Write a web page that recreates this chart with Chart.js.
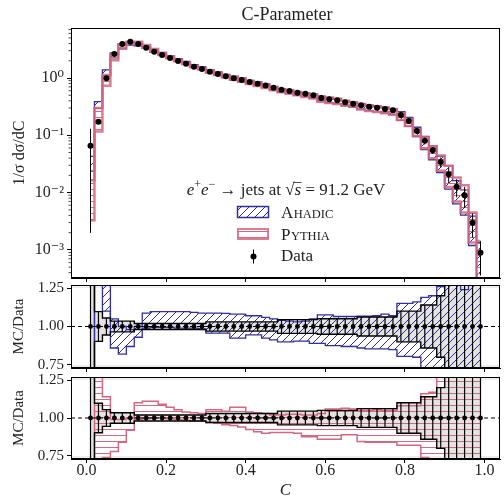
<!DOCTYPE html>
<html lang="en">
<head>
<meta charset="UTF-8">
<script src="https://cdn.jsdelivr.net/npm/chart.js@4.4.0/dist/chart.umd.min.js"></script>
<title>C-Parameter</title>
<style>
  body { margin: 0; background: #fff; }
  #wrap { position: relative; width: 504px; height: 498px; }
  canvas { position: absolute; left: 0; }
</style>
</head>
<body>
<div id="wrap">
  <canvas id="main" width="504" height="290" style="top:0px"></canvas>
  <canvas id="ratioA" width="504" height="94" style="top:280px"></canvas>
  <canvas id="ratioP" width="504" height="129" style="top:372px"></canvas>
</div>
<script>
// bin centres in C
const centers = [0.01, 0.03, 0.05, 0.07, 0.09, 0.11, 0.13, 0.15, 0.17, 0.19,
                 0.21, 0.23, 0.25, 0.27, 0.29, 0.31, 0.33, 0.35, 0.37, 0.39,
                 0.41, 0.43, 0.45, 0.47, 0.49, 0.51, 0.53, 0.55, 0.57, 0.59,
                 0.61, 0.63, 0.65, 0.67, 0.69, 0.71, 0.73, 0.75, 0.77, 0.79,
                 0.81, 0.83, 0.85, 0.87, 0.89, 0.91, 0.93, 0.95, 0.97, 0.99];

// data: 1/sigma dsigma/dC
const sigma = [0.066, 0.173, 0.99, 2.62, 3.92, 4.30, 3.92, 3.38, 2.88, 2.52,
               2.23, 1.98, 1.78, 1.57, 1.44, 1.29, 1.17, 1.07, 0.99, 0.923,
               0.851, 0.796, 0.743, 0.677, 0.625, 0.593, 0.554, 0.532, 0.499, 0.448,
               0.425, 0.408, 0.377, 0.356, 0.334, 0.316, 0.303, 0.288, 0.273, 0.226,
               0.178, 0.119, 0.080, 0.055, 0.0342, 0.0209, 0.0127, 0.00897, 0.00298, 0.00089];

// relative data uncertainty
const relErr = [0.97, 0.097, 0.055, 0.035, 0.035, 0.035, 0.02, 0.02, 0.02, 0.02,
                0.02, 0.02, 0.02, 0.02, 0.02, 0.03, 0.03, 0.03, 0.03, 0.03,
                0.03, 0.03, 0.03, 0.03, 0.045, 0.045, 0.045, 0.045, 0.045, 0.05,
                0.05, 0.05, 0.05, 0.05, 0.062, 0.062, 0.062, 0.062, 0.062, 0.10,
                0.10, 0.10, 0.14, 0.14, 0.20, 0.30, 0.35, 0.40, 0.45, 0.60];

// MC / Data bands
const ahadicLo = [0.36, 1.70, 1.10, 0.86, 0.82, 0.87, 0.93, 0.99, 0.995, 0.995,
                  0.995, 0.99, 0.99, 0.99, 0.985, 0.957, 0.957, 0.957, 0.924, 0.924,
                  0.946, 0.946, 0.924, 0.913, 0.90, 0.90, 0.905, 0.905, 0.89, 0.89,
                  0.875, 0.875, 0.87, 0.87, 0.86, 0.855, 0.855, 0.855, 0.85, 0.805,
                  0.805, 0.80, 0.70, 0.68, 0.65, 0.55, 0.50, 0.45, 0.40, 0.10];
const ahadicHi = [0.65, 2.23, 1.40, 1.05, 1.00, 0.98, 1.00, 1.087, 1.097, 1.097,
                  1.097, 1.097, 1.097, 1.092, 1.087, 1.087, 1.087, 1.085, 1.08, 1.08,
                  1.07, 1.07, 1.06, 1.05, 1.04, 1.035, 1.03, 1.035, 1.05, 1.076,
                  1.076, 1.065, 1.065, 1.065, 1.068, 1.068, 1.07, 1.08, 1.07, 1.15,
                  1.15, 1.16, 1.19, 1.20, 1.26, 1.40, 1.27, 1.24, 1.30, 1.50];
const pythiaLo = [0.05, 0.67, 0.74, 0.78, 0.84, 0.92, 0.99, 0.995, 1.0, 1.0,
                  0.995, 0.99, 0.985, 0.98, 0.98, 0.97, 0.965, 0.955, 0.95, 0.94,
                  0.925, 0.91, 0.90, 0.905, 0.905, 0.905, 0.90, 0.877, 0.877, 0.86,
                  0.86, 0.86, 0.89, 0.89, 0.845, 0.84, 0.84, 0.84, 0.84, 0.82,
                  0.82, 0.82, 0.74, 0.72, 0.70, 0.60, 0.55, 0.50, 0.45, 0.20];
const pythiaHi = [0.25, 1.73, 1.14, 0.99, 0.99, 1.0, 1.10, 1.11, 1.11, 1.09,
                  1.07, 1.055, 1.04, 1.035, 1.03, 1.055, 1.055, 1.045, 1.07, 1.07,
                  1.04, 1.035, 1.03, 1.02, 1.02, 1.025, 1.025, 1.02, 1.02, 1.03,
                  1.06, 1.06, 1.065, 1.06, 1.05, 1.05, 1.055, 1.05, 1.05, 1.08,
                  1.08, 1.08, 1.16, 1.17, 1.30, 1.40, 1.45, 1.50, 1.50, 1.60];

const xTicks = [0.0, 0.2, 0.4, 0.6, 0.8, 1.0];
const logTicks = [1e-3, 1e-2, 1e-1, 1];
const logLabels = ['10\u207B\u00B3', '10\u207B\u00B2', '10\u207B\u00B9', '10\u2070'];
const ratioTicks = [0.75, 1.0, 1.25];

const X_MIN = -0.039, X_MAX = 1.039;
const Y_MIN = 3.23e-4, Y_MAX = 7.46;
const R_MIN = 0.73, R_MAX = 1.27;

const SERIF = '"Liberation Serif", "DejaVu Serif", serif';
const BLUE = '#30309c';
const PINK = '#d4687f';
Chart.defaults.font.family = SERIF;
Chart.defaults.color = '#222';

function pts(ys) { return centers.map((c, i) => ({ x: c, y: ys[i] })); }
function mul(a, b) { return a.map((v, i) => v * b[i]); }
const unity = centers.map(() => 1);
const bandHi = relErr.map(e => 1 + e);
const bandLo = relErr.map(e => 1 - e);

function makeHatch(color, kind) {
  const c = document.createElement('canvas');
  const n = kind === 'diag' ? 8 : 6;
  c.width = n; c.height = n;
  const g = c.getContext('2d');
  g.strokeStyle = color; g.lineWidth = 1;
  g.beginPath();
  if (kind === 'diag') {
    g.moveTo(0, n); g.lineTo(n, 0);
    g.moveTo(-1, 1); g.lineTo(1, -1);
    g.moveTo(n - 1, n + 1); g.lineTo(n + 1, n - 1);
  } else {
    g.moveTo(0, n / 2 + 0.5); g.lineTo(n, n / 2 + 0.5);
  }
  g.stroke();
  return g.createPattern(c, 'repeat');
}
const blueHatch = makeHatch(BLUE, 'diag');
const pinkHatch = makeHatch(PINK, 'horiz');

function xScale(labels, height) {
  return {
    type: 'linear', min: X_MIN, max: X_MAX, bounds: 'data',
    afterBuildTicks: s => { s.ticks = xTicks.map(v => ({ value: v })); },
    afterFit: s => { s.height = height; s.paddingLeft = 0; s.paddingRight = 0; },
    ticks: { display: labels, autoSkip: false, maxRotation: 0, padding: -2,
             font: { size: 16 }, callback: v => v.toFixed(1) },
    grid: { drawOnChartArea: false, drawTicks: true, tickLength: 4, color: '#000' },
    border: { color: '#000', width: 1 },
    title: { display: labels, text: 'C', padding: 0,
             font: { size: 17, style: 'italic' } }
  };
}

const framePlugin = {
  id: 'frame',
  afterDraw(chart) {
    const { ctx, chartArea: a } = chart;
    ctx.save();
    ctx.strokeStyle = '#000'; ctx.lineWidth = 1;
    ctx.strokeRect(a.left + 0.5, a.top + 0.5, a.right - a.left - 1, a.bottom - a.top - 1);
    ctx.restore();
  }
};

function errorBars(ys, lw) {
  return {
    id: 'errbars',
    afterDatasetsDraw(chart) {
      const { ctx, chartArea: a, scales: { x, y } } = chart;
      ctx.save();
      ctx.beginPath(); ctx.rect(a.left, a.top, a.right - a.left, a.bottom - a.top); ctx.clip();
      ctx.strokeStyle = '#000'; ctx.lineWidth = lw;
      ctx.beginPath();
      centers.forEach((c, i) => {
        const px = x.getPixelForValue(c);
        const lo = Math.max(ys[i] * (1 - relErr[i]), 1e-7);
        ctx.moveTo(px, y.getPixelForValue(ys[i] * (1 + relErr[i])));
        ctx.lineTo(px, y.getPixelForValue(lo));
      });
      ctx.stroke();
      ctx.restore();
    }
  };
}

function drawRich(ctx, parts, cx, base) {
  let w = 0;
  parts.forEach(p => { ctx.font = p.f; w += ctx.measureText(p.t).width; });
  let x = cx - w / 2;
  parts.forEach(p => {
    ctx.font = p.f;
    const pw = ctx.measureText(p.t).width;
    ctx.fillText(p.t, x, base + (p.dy || 0));
    if (p.over) {
      ctx.beginPath(); ctx.lineWidth = 0.8;
      ctx.moveTo(x - 1, base - 12.5); ctx.lineTo(x + pw + 0.5, base - 12.5); ctx.stroke();
    }
    x += pw;
  });
}

const topDeco = {
  id: 'topDeco',
  afterDraw(chart) {
    const { ctx, scales: { y }, chartArea: a } = chart;
    ctx.save();
    ctx.fillStyle = '#222'; ctx.strokeStyle = '#222';
    ctx.textAlign = 'left'; ctx.textBaseline = 'alphabetic';
    // title
    drawRich(ctx, [{ t: 'C-Parameter', f: '18px ' + SERIF }], 287, 20);
    // minor log ticks
    ctx.strokeStyle = '#000'; ctx.lineWidth = 0.7;
    ctx.beginPath();
    for (let k = -4; k <= 0; k++) {
      for (let m = 2; m <= 9; m++) {
        const v = m * Math.pow(10, k);
        if (v < Y_MIN || v > Y_MAX) continue;
        const py = y.getPixelForValue(v);
        ctx.moveTo(a.left - 2.5, py); ctx.lineTo(a.left, py);
      }
    }
    ctx.stroke();
    // legend
    ctx.fillStyle = '#222'; ctx.strokeStyle = '#222';
    const it = 'italic 17px ' + SERIF, rm = '17px ' + SERIF, sm = '12px ' + SERIF;
    drawRich(ctx, [
      { t: 'e', f: it }, { t: '+', f: sm, dy: -7 }, { t: 'e', f: it }, { t: '\u2212', f: sm, dy: -7 },
      { t: ' \u2192 jets at ', f: rm }, { t: '\u221A', f: rm }, { t: 's', f: it, over: true },
      { t: ' = 91.2 GeV', f: rm }
    ], 286, 195);

    ctx.fillStyle = blueHatch; ctx.fillRect(237, 206, 32, 12);
    ctx.strokeStyle = BLUE; ctx.lineWidth = 1.5; ctx.strokeRect(237.5, 206.5, 31, 11);
    ctx.fillStyle = pinkHatch; ctx.fillRect(237, 228, 32, 12);
    ctx.strokeStyle = 'rgba(212,104,127,0.85)'; ctx.lineWidth = 2; ctx.strokeRect(238, 229, 30, 10);

    ctx.fillStyle = '#000'; ctx.strokeStyle = '#000'; ctx.lineWidth = 1;
    ctx.beginPath(); ctx.moveTo(253.5, 249.5); ctx.lineTo(253.5, 263.5); ctx.stroke();
    ctx.beginPath(); ctx.arc(253.5, 256.5, 3, 0, 2 * Math.PI); ctx.fill();

    ctx.fillStyle = '#222';
    const cap = '17px ' + SERIF, sc = '12.5px ' + SERIF;
    ctx.font = cap; ctx.fillText('A', 281, 218);
    let w = ctx.measureText('A').width;
    ctx.font = sc; ctx.fillText('HADIC', 281 + w + 0.5, 218);
    ctx.font = cap; ctx.fillText('P', 281, 240);
    w = ctx.measureText('P').width;
    ctx.font = sc; ctx.fillText('YTHIA', 281 + w + 0.5, 240);
    ctx.font = cap; ctx.fillText('Data', 281, 261);
    ctx.restore();
  }
};

new Chart(document.getElementById('main'), {
  type: 'line',
  data: {
    datasets: [
      { label: 'Data', data: pts(sigma), showLine: false, pointRadius: 3,
        pointBackgroundColor: '#000', pointBorderWidth: 0, borderColor: '#000' },
      { label: 'Pythia up', data: pts(mul(sigma, pythiaHi)), stepped: 'middle',
        borderColor: 'rgba(212,104,127,0.85)', borderWidth: 2.5, pointRadius: 0, fill: false },
      { label: 'Pythia down', data: pts(mul(sigma, pythiaLo)), stepped: 'middle',
        borderColor: 'rgba(212,104,127,0.85)', borderWidth: 2.5, pointRadius: 0,
        fill: '-1', backgroundColor: pinkHatch },
      { label: 'Ahadic up', data: pts(mul(sigma, ahadicHi)), stepped: 'middle',
        borderColor: BLUE, borderWidth: 1.3, pointRadius: 0, fill: false },
      { label: 'Ahadic down', data: pts(mul(sigma, ahadicLo)), stepped: 'middle',
        borderColor: BLUE, borderWidth: 1.3, pointRadius: 0,
        fill: '-1', backgroundColor: blueHatch }
    ]
  },
  options: {
    responsive: false, animation: false, devicePixelRatio: 1,
    layout: { padding: { top: 28, right: 1, left: 0, bottom: 0 } },
    plugins: { legend: { display: false }, tooltip: { enabled: false } },
    scales: {
      x: xScale(false, 12),
      y: {
        type: 'logarithmic', min: Y_MIN, max: Y_MAX, bounds: 'data',
        afterBuildTicks: s => { s.ticks = logTicks.map(v => ({ value: v })); },
        afterFit: s => { s.width = 71; s.paddingTop = 0; s.paddingBottom = 0; },
        ticks: { autoSkip: false, padding: 3, font: { size: 16 },
                 callback: v => logLabels[logTicks.findIndex(t => Math.abs(t - v) / t < 1e-6)] || '' },
        grid: { drawOnChartArea: false, drawTicks: true, tickLength: 4, color: '#000' },
        border: { color: '#000', width: 1 },
        title: { display: true, text: '1/\u03C3 d\u03C3/dC', padding: { top: 10, bottom: 0 },
                 font: { size: 16 } }
      }
    }
  },
  plugins: [framePlugin, errorBars(sigma, 1), topDeco]
});

const shade = {
  id: 'shade',
  beforeDatasetsDraw(chart) {
    const { ctx, chartArea: a, scales: { y } } = chart;
    const y1 = y.getPixelForValue(1.25), y2 = y.getPixelForValue(0.75);
    ctx.save();
    ctx.fillStyle = '#ededed';
    ctx.fillRect(a.left, a.top, a.right - a.left, y1 - a.top);
    ctx.fillRect(a.left, y2, a.right - a.left, a.bottom - y2);
    ctx.restore();
  }
};

function ratioChart(id, lo, hi, color, hatch, lw, xLabels, xHeight) {
  return new Chart(document.getElementById(id), {
    type: 'line',
    data: {
      datasets: [
        { data: pts(unity), showLine: false, pointRadius: 2.4,
          pointBackgroundColor: '#000', pointBorderWidth: 0, borderColor: '#000' },
        { data: [{ x: X_MIN, y: 1 }, { x: X_MAX, y: 1 }], borderColor: '#000',
          borderWidth: 1, borderDash: [4, 3], pointRadius: 0, fill: false },
        { data: pts(bandHi), stepped: 'middle', borderColor: '#000', borderWidth: 1.4,
          pointRadius: 0, fill: false },
        { data: pts(bandLo), stepped: 'middle', borderColor: '#000', borderWidth: 1.4,
          pointRadius: 0, fill: false },
        { data: pts(hi), stepped: 'middle', borderColor: color, borderWidth: lw,
          pointRadius: 0, fill: false },
        { data: pts(lo), stepped: 'middle', borderColor: color, borderWidth: lw,
          pointRadius: 0, fill: '-1', backgroundColor: hatch },
        { data: pts(bandHi), stepped: 'middle', borderColor: 'rgba(0,0,0,0)',
          pointRadius: 0, fill: false },
        { data: pts(bandLo), stepped: 'middle', borderColor: 'rgba(0,0,0,0)',
          pointRadius: 0, fill: '-1', backgroundColor: '#e3e3e3' }
      ]
    },
    options: {
      responsive: false, animation: false, devicePixelRatio: 1,
      layout: { padding: { top: 5, right: 1, left: 0, bottom: 0 } },
      plugins: { legend: { display: false }, tooltip: { enabled: false } },
      scales: {
        x: xScale(xLabels, xHeight),
        y: {
          type: 'linear', min: R_MIN, max: R_MAX, bounds: 'data',
          afterBuildTicks: s => { s.ticks = ratioTicks.map(v => ({ value: v })); },
          afterFit: s => { s.width = 71; s.paddingTop = 0; s.paddingBottom = 0; },
          ticks: { autoSkip: false, padding: 3, font: { size: 15 }, callback: v => v.toFixed(2) },
          grid: { drawOnChartArea: false, drawTicks: true, tickLength: 4, color: '#000' },
          border: { color: '#000', width: 1 },
          title: { display: true, text: 'MC/Data', padding: { top: 10, bottom: 0 },
                   font: { size: 15 } }
        }
      }
    },
    plugins: [shade, framePlugin, errorBars(unity, 1.2)]
  });
}

ratioChart('ratioA', ahadicLo, ahadicHi, BLUE, blueHatch, 1.3, false, 6);
ratioChart('ratioP', pythiaLo, pythiaHi, PINK, pinkHatch, 1.5, true, 42);
</script>
</body>
</html>
